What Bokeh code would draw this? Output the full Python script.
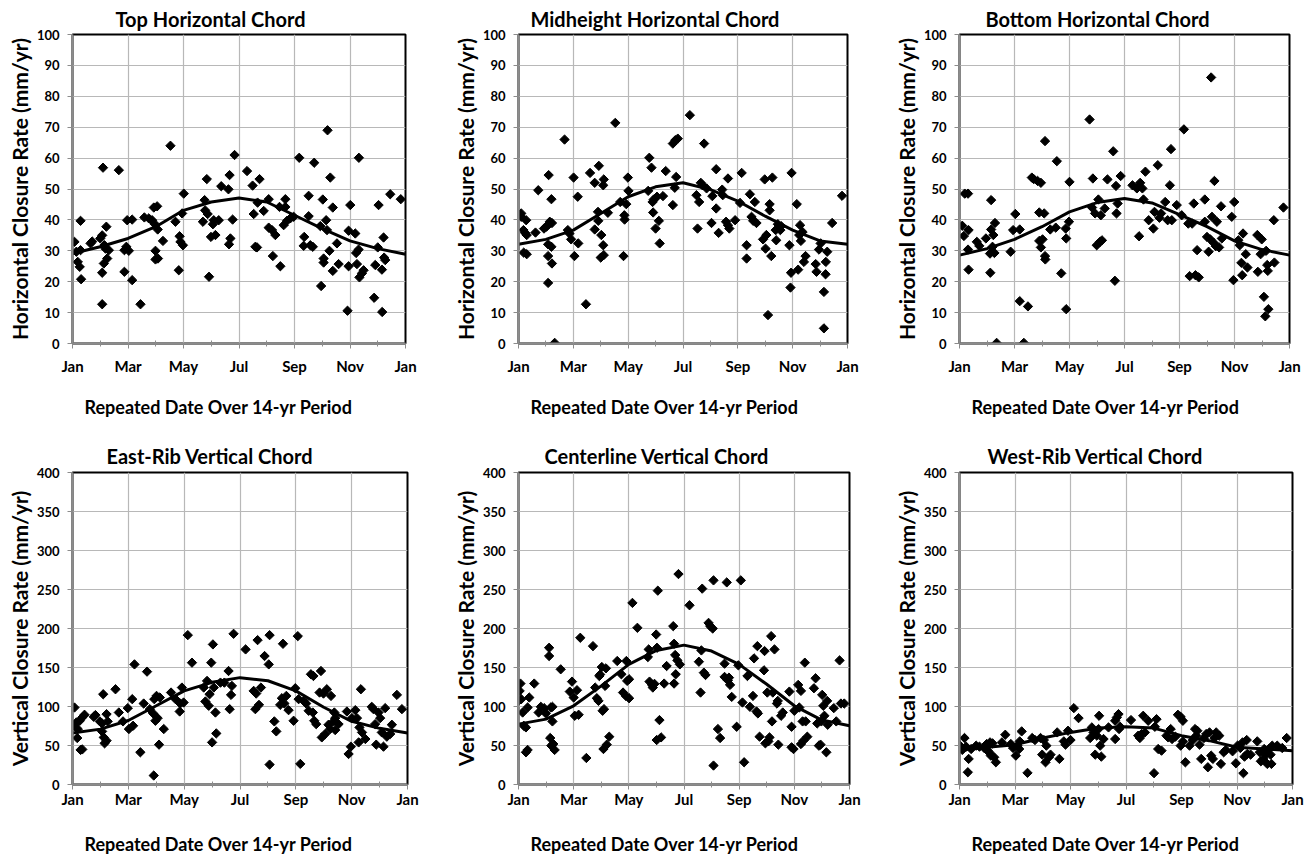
import math
from bokeh.plotting import figure
from bokeh.models import Range1d, FixedTicker, Title
from bokeh.layouts import row, column
from bokeh.embed import file_html
from bokeh.resources import INLINE

FONT = "Lato"

# ---------------- data (x = month position, 0 = Jan ... 12 = next Jan) ----------------
month_ticks = [0, 2, 4, 6, 8, 10, 12]
month_labels = ["Jan", "Mar", "May", "Jul", "Sep", "Nov", "Jan"]
minor_month_ticks = [1, 3, 5, 7, 9, 11]
curve_months = [0, 1, 2, 3, 4, 5, 6, 7, 8, 9, 10, 11, 12]

top_pts = [(0.07,32.9),(0.14,29.7),(0.19,26.4),(0.26,24.8),(0.31,20.8),(0.29,39.7),(0.29,30.2),(0.65,32.4),(0.71,33.0),(1.00,34.0),(1.07,35.0),(1.10,56.9),(1.07,12.7),(1.07,22.9),(1.13,25.9),(1.19,30.7),(1.15,31.8),(1.22,37.8),(1.25,27.5),(1.31,30.2),(1.67,56.1),(1.87,30.2),(1.87,23.2),(1.94,31.3),(1.97,39.9),(2.03,30.0),(2.15,20.5),(2.15,40.1),(2.45,12.7),(2.59,40.8),(2.75,40.5),(2.87,39.9),(2.93,44.0),(3.05,44.4),(2.95,38.8),(3.07,36.9),(2.99,30.0),(2.99,27.2),(3.08,27.5),(3.26,33.2),(3.53,64.0),(3.71,39.4),(3.83,23.7),(3.86,34.7),(3.89,32.9),(3.98,31.8),(3.95,42.1),(4.01,48.5),(4.70,39.4),(4.76,46.4),(4.84,53.2),(4.78,43.1),(4.87,41.9),(4.92,21.6),(4.99,34.5),(5.06,38.6),(5.15,35.1),(5.09,39.9),(5.27,39.9),(5.36,50.9),(5.62,49.9),(5.66,54.5),(5.64,32.1),(5.69,34.0),(5.77,40.1),(5.84,61.0),(6.29,55.8),(6.49,51.1),(6.53,41.9),(6.59,31.3),(6.65,31.1),(6.67,45.6),(6.74,53.2),(6.89,42.9),(7.07,46.7),(7.07,37.5),(7.19,36.7),(7.22,28.3),(7.31,35.1),(7.46,44.2),(7.49,25.0),(7.67,46.7),(7.61,38.3),(7.67,44.2),(7.73,39.7),(7.85,40.5),(7.97,41.0),(8.17,60.1),(8.35,34.5),(8.33,31.6),(8.51,47.8),(8.51,41.2),(8.57,31.8),(8.66,31.3),(8.71,58.5),(8.93,38.0),(8.96,18.6),(9.02,46.6),(9.05,27.5),(9.05,26.2),(9.14,39.9),(9.17,36.7),(9.19,69.0),(9.26,30.0),(9.29,53.7),(9.38,44.0),(9.38,23.5),(9.53,32.4),(9.59,25.7),(9.95,36.5),(9.95,25.0),(9.91,10.6),(10.01,44.8),(10.19,35.6),(10.22,29.3),(10.25,25.7),(10.31,30.4),(10.32,60.1),(10.34,21.4),(10.43,22.7),(10.49,23.7),(10.87,14.8),(10.91,25.4),(11.00,31.1),(11.03,44.8),(11.15,23.9),(11.16,10.2),(11.21,34.3),(11.23,27.8),(11.27,27.0),(11.45,48.3),(11.83,46.7)]
top_curve = [29.1, 31.3, 34.0, 37.8, 43.1, 45.8, 47.1, 45.8, 41.5, 37.2, 33.2, 30.7, 28.9]

mid_pts = [(0.10,42.1),(0.10,41.0),(0.18,36.7),(0.28,39.9),(0.24,35.8),(0.30,35.1),(0.19,29.4),(0.30,28.9),(0.62,35.9),(0.72,49.6),(0.93,37.2),(1.02,37.8),(1.10,54.5),(1.10,38.6),(1.14,39.4),(1.22,39.0),(1.08,32.1),(1.20,31.3),(1.08,28.3),(1.20,46.7),(1.22,25.9),(1.08,19.6),(1.32,0.2),(1.68,66.0),(1.80,36.7),(1.86,35.6),(1.92,33.7),(2.04,28.3),(2.01,53.7),(2.16,47.5),(2.18,32.4),(2.46,12.7),(2.61,55.2),(2.78,52.0),(2.78,36.9),(2.93,57.5),(2.90,42.6),(2.91,39.7),(3.02,35.1),(3.00,27.8),(3.09,31.8),(3.11,53.1),(3.09,51.2),(3.11,28.6),(3.26,42.3),(3.53,71.4),(3.71,45.8),(3.83,28.3),(3.86,41.5),(3.87,40.1),(3.93,45.1),(3.99,53.7),(4.01,49.4),(4.73,49.4),(4.77,60.1),(4.85,56.9),(4.89,45.8),(4.91,42.4),(4.93,46.6),(5.00,37.2),(5.05,47.5),(5.12,39.7),(5.15,32.4),(5.27,47.7),(5.37,55.8),(5.63,44.8),(5.63,64.7),(5.72,65.8),(5.81,66.3),(5.70,50.4),(5.75,53.9),(6.25,73.9),(6.49,48.0),(6.53,37.2),(6.59,45.8),(6.65,52.0),(6.71,51.2),(6.77,64.7),(6.86,50.2),(7.04,39.0),(7.07,47.7),(7.21,56.4),(7.21,43.7),(7.30,35.8),(7.43,49.8),(7.45,48.0),(7.57,39.4),(7.64,53.4),(7.64,38.3),(7.69,37.2),(7.90,39.9),(8.08,45.5),(8.14,55.2),(8.32,31.8),(8.32,27.5),(8.44,48.3),(8.50,41.0),(8.56,39.7),(8.62,45.8),(8.68,39.0),(8.92,33.7),(8.98,53.1),(9.01,30.7),(9.04,35.1),(9.10,9.2),(9.16,45.1),(9.16,43.1),(9.22,28.3),(9.26,53.7),(9.38,36.7),(9.40,33.4),(9.46,38.6),(9.55,36.7),(9.58,38.0),(9.88,31.8),(9.94,22.9),(9.92,18.1),(9.96,55.2),(10.15,45.1),(10.20,23.9),(10.24,35.1),(10.27,38.3),(10.30,33.2),(10.36,36.1),(10.41,26.4),(10.47,28.3),(10.84,25.7),(10.87,23.2),(10.96,30.4),(11.02,32.4),(11.14,16.7),(11.14,4.9),(11.20,22.4),(11.21,26.4),(11.26,29.7),(11.44,39.0),(11.80,47.8)]
mid_curve = [32.1, 33.7, 36.7, 42.1, 47.5, 50.7, 52.0, 49.8, 46.1, 41.2, 36.7, 33.2, 32.1]

bot_pts = [(0.10,38.1),(0.16,34.8),(0.19,48.5),(0.31,48.5),(0.33,36.7),(0.31,30.4),(0.33,23.9),(0.63,32.9),(0.72,31.6),(0.96,34.0),(1.11,29.1),(1.12,22.9),(1.15,46.4),(1.15,36.9),(1.20,31.3),(1.23,35.1),(1.27,29.3),(1.29,39.0),(1.35,0.2),(1.86,29.7),(1.95,36.7),(2.03,41.9),(2.19,36.9),(2.19,13.7),(2.34,0.2),(2.49,12.0),(2.63,53.7),(2.70,53.2),(2.84,52.6),(2.96,52.0),(2.90,42.4),(2.90,33.2),(2.96,31.1),(3.02,33.7),(3.08,42.1),(3.11,65.5),(3.11,28.3),(3.12,27.2),(3.30,36.9),(3.50,37.5),(3.54,59.0),(3.70,22.7),(3.86,37.2),(3.88,34.0),(3.88,11.1),(3.98,39.4),(4.00,52.3),(4.73,72.5),(4.82,44.0),(4.85,53.4),(4.93,42.1),(4.99,31.8),(5.05,46.6),(5.11,32.9),(5.14,41.5),(5.18,33.4),(5.28,43.7),(5.38,53.1),(5.59,62.2),(5.65,20.3),(5.69,51.0),(5.71,42.1),(5.75,45.3),(5.86,54.2),(6.29,51.2),(6.45,50.2),(6.53,34.7),(6.57,52.0),(6.65,50.2),(6.69,46.6),(6.76,55.6),(6.88,39.9),(7.05,37.2),(7.09,42.6),(7.21,57.7),(7.27,40.7),(7.33,42.1),(7.48,45.8),(7.57,39.9),(7.65,51.2),(7.69,62.9),(7.72,39.9),(7.90,44.8),(8.08,41.5),(8.16,69.3),(8.32,38.8),(8.37,21.8),(8.46,38.8),(8.52,45.3),(8.58,22.1),(8.64,30.2),(8.70,21.4),(8.92,46.6),(8.92,39.4),(9.00,34.5),(9.06,29.7),(9.12,33.7),(9.15,86.1),(9.18,41.0),(9.24,32.6),(9.27,52.6),(9.32,31.5),(9.36,39.4),(9.44,31.1),(9.51,44.4),(9.54,34.0),(9.90,41.0),(9.96,20.5),(9.99,45.8),(10.14,33.4),(10.19,31.8),(10.25,26.1),(10.28,22.1),(10.31,35.6),(10.41,28.9),(10.47,24.6),(10.83,35.1),(10.85,23.2),(10.95,28.9),(10.99,33.7),(11.07,15.1),(11.12,8.8),(11.15,30.0),(11.19,25.4),(11.21,23.5),(11.23,11.1),(11.43,39.9),(11.45,26.2),(11.78,44.0)]
bot_curve = [28.6, 30.7, 33.7, 37.8, 42.6, 45.6, 46.9, 45.5, 41.7, 37.8, 33.2, 30.4, 28.6]

east_pts = [(0.07,98.7),(0.05,75.3),(0.14,79.6),(0.17,59.6),(0.19,71.1),(0.29,44.3),(0.35,45.0),(0.26,81.7),(0.35,86.0),(0.43,89.4),(0.76,86.8),(0.82,89.0),(0.98,80.9),(1.06,78.3),(1.10,115.7),(1.06,68.1),(1.12,60.4),(1.15,52.8),(1.22,56.2),(1.22,90.2),(1.26,80.9),(1.54,122.1),(1.66,92.3),(1.81,80.9),(1.98,97.9),(2.02,71.1),(2.14,109.4),(2.17,75.3),(2.22,154.0),(2.43,41.3),(2.55,103.8),(2.67,144.7),(2.77,96.6),(2.89,91.1),(2.91,11.5),(2.93,109.4),(2.97,81.7),(3.01,113.6),(3.05,85.1),(3.10,51.1),(3.13,111.5),(3.27,71.1),(3.53,117.9),(3.69,109.4),(3.84,93.6),(3.86,103.8),(3.92,124.3),(3.98,105.1),(4.13,191.5),(4.28,156.2),(4.70,124.3),(4.76,106.4),(4.82,132.8),(4.88,100.9),(4.91,115.7),(4.97,156.2),(5.00,54.0),(5.03,179.6),(5.06,124.3),(5.12,92.3),(5.15,65.5),(5.30,130.6),(5.44,130.6),(5.59,145.5),(5.63,96.6),(5.68,114.9),(5.71,126.4),(5.77,193.2),(6.20,173.2),(6.49,120.0),(6.55,96.6),(6.58,116.6),(6.63,185.1),(6.68,102.1),(6.75,124.3),(6.88,164.7),(7.03,154.0),(7.06,191.5),(7.06,25.5),(7.23,80.9),(7.30,68.1),(7.44,102.1),(7.50,110.6),(7.54,180.4),(7.59,103.8),(7.66,113.6),(7.74,95.3),(7.92,81.7),(7.98,123.4),(8.07,190.2),(8.10,109.4),(8.16,26.4),(8.28,107.2),(8.37,103.8),(8.46,94.5),(8.54,141.3),(8.63,139.1),(8.61,92.3),(8.66,81.7),(8.73,77.4),(8.85,117.9),(8.90,145.5),(8.93,60.4),(8.99,116.6),(9.05,64.7),(9.11,122.1),(9.17,76.6),(9.23,71.1),(9.26,113.6),(9.35,80.9),(9.38,92.3),(9.41,85.1),(9.41,69.8),(9.53,77.4),(9.83,93.6),(9.89,39.1),(9.97,48.5),(10.01,85.1),(10.13,95.3),(10.19,85.1),(10.25,54.0),(10.28,73.2),(10.33,122.1),(10.37,66.8),(10.49,58.3),(10.72,99.6),(10.78,96.6),(10.84,77.4),(10.88,51.1),(10.96,92.3),(11.02,85.1),(11.08,66.8),(11.14,48.5),(11.20,97.9),(11.26,61.3),(11.38,64.7),(11.44,76.6),(11.62,114.9),(11.80,96.6)]
east_curve = [66.0, 71.0, 82.0, 101.0, 120.0, 131.0, 137.0, 133.0, 120.0, 99.0, 81.0, 72.0, 66.0]

center_pts = [(0.07,129.4),(0.04,120.0),(0.00,107.2),(0.10,109.4),(0.15,92.3),(0.19,75.3),(0.27,73.2),(0.27,41.3),(0.33,44.3),(0.33,98.7),(0.39,111.5),(0.57,129.4),(0.73,92.3),(0.81,99.6),(0.93,97.9),(0.99,91.1),(1.11,175.3),(1.11,164.7),(1.15,59.6),(1.17,98.7),(1.19,49.8),(1.23,99.6),(1.23,80.9),(1.26,52.0),(1.31,44.3),(1.53,147.7),(1.86,119.1),(1.94,131.9),(2.00,111.5),(2.04,88.1),(2.12,120.9),(2.18,89.4),(2.24,188.1),(2.46,34.0),(2.70,177.4),(2.78,124.3),(2.84,110.6),(2.90,107.2),(2.93,139.1),(2.96,141.0),(3.02,150.6),(3.05,94.5),(3.10,96.6),(3.08,45.5),(3.14,126.4),(3.17,148.9),(3.20,51.1),(3.29,61.3),(3.58,158.3),(3.73,141.3),(3.79,117.9),(3.89,113.6),(3.91,158.3),(3.94,132.8),(4.01,134.9),(4.01,110.6),(4.13,232.8),(4.31,200.9),(4.69,163.4),(4.72,173.2),(4.75,131.9),(4.84,127.7),(4.87,124.3),(4.93,129.0),(4.99,192.3),(5.02,175.3),(5.05,248.5),(5.01,57.0),(5.11,82.6),(5.17,60.4),(5.28,129.4),(5.37,151.9),(5.61,203.0),(5.64,180.4),(5.64,129.4),(5.68,166.0),(5.70,141.3),(5.76,159.1),(5.80,269.8),(5.85,154.0),(6.20,229.8),(6.54,157.4),(6.60,117.9),(6.63,171.9),(6.66,251.1),(6.72,143.4),(6.78,140.4),(6.89,207.2),(6.95,203.0),(7.04,200.0),(7.07,261.7),(7.07,24.3),(7.23,71.1),(7.31,59.6),(7.47,154.9),(7.47,137.9),(7.55,259.1),(7.59,133.6),(7.63,137.0),(7.67,127.7),(7.73,112.3),(7.91,74.0),(7.97,152.8),(8.06,261.7),(8.12,105.1),(8.18,28.5),(8.30,139.1),(8.39,99.6),(8.50,113.6),(8.54,161.7),(8.63,93.6),(8.66,177.4),(8.68,91.1),(8.74,61.3),(8.90,146.4),(8.92,171.1),(8.95,52.8),(9.02,117.9),(9.06,55.3),(9.10,60.4),(9.16,190.2),(9.19,80.9),(9.22,117.9),(9.28,173.2),(9.37,103.8),(9.40,107.2),(9.42,51.1),(9.52,88.1),(9.58,92.3),(9.82,119.1),(9.90,74.0),(9.90,47.7),(9.97,45.5),(10.00,94.5),(10.14,127.7),(10.18,98.7),(10.24,120.0),(10.24,51.9),(10.30,80.9),(10.33,56.2),(10.38,156.2),(10.41,80.9),(10.47,61.3),(10.71,123.4),(10.77,136.2),(10.83,78.3),(10.89,49.8),(10.95,51.1),(10.98,80.9),(11.01,114.9),(11.05,100.9),(11.09,88.1),(11.16,41.3),(11.19,107.2),(11.21,76.6),(11.43,97.9),(11.52,80.9),(11.64,159.1),(11.69,103.8),(11.81,103.8)]
center_curve = [77.4, 83.8, 100.9, 126.4, 154.0, 171.9, 178.7, 171.1, 154.0, 128.5, 100.9, 82.6, 75.3]

west_pts = [(0.02,49.8),(0.10,44.3),(0.18,59.6),(0.30,15.7),(0.33,32.8),(0.24,48.5),(0.42,45.5),(0.60,49.8),(0.72,48.5),(0.89,46.8),(0.98,51.9),(1.01,43.4),(1.07,41.3),(1.10,54.0),(1.13,37.0),(1.19,52.8),(1.25,34.9),(1.31,28.5),(1.53,54.0),(1.65,63.8),(1.85,51.9),(1.93,46.8),(2.03,37.0),(2.09,49.8),(2.15,45.5),(2.17,55.3),(2.24,68.1),(2.45,14.9),(2.62,59.6),(2.72,57.0),(2.92,59.6),(2.98,38.3),(3.04,57.0),(3.10,28.5),(3.13,49.8),(3.22,34.9),(3.28,38.3),(3.52,66.8),(3.60,32.8),(3.76,55.3),(3.82,51.1),(3.91,68.9),(4.00,57.0),(4.12,97.9),(4.29,85.1),(4.71,59.6),(4.77,73.2),(4.83,66.8),(4.89,38.3),(4.95,62.6),(5.01,71.1),(5.03,88.1),(5.07,49.8),(5.11,35.7),(5.19,58.3),(5.37,73.2),(5.61,58.3),(5.61,81.7),(5.67,86.0),(5.73,90.2),(5.75,71.1),(5.79,74.0),(6.18,82.6),(6.44,62.6),(6.50,59.6),(6.56,64.7),(6.62,88.1),(6.68,66.8),(6.80,81.7),(7.01,14.5),(7.04,74.0),(7.10,83.8),(7.16,45.5),(7.28,43.4),(7.46,62.6),(7.52,60.4),(7.61,71.1),(7.66,58.3),(7.78,61.3),(7.87,89.4),(7.97,86.8),(8.05,81.7),(7.97,49.8),(8.05,55.3),(8.14,28.5),(8.29,49.8),(8.41,57.0),(8.49,71.1),(8.53,62.6),(8.57,68.9),(8.65,51.1),(8.71,32.8),(8.81,59.6),(8.89,64.7),(8.95,22.1),(9.01,66.8),(9.07,37.0),(9.13,32.8),(9.19,59.6),(9.25,66.8),(9.36,62.6),(9.42,26.4),(9.52,41.3),(9.60,44.3),(9.84,42.6),(9.96,27.2),(10.02,49.8),(10.12,46.8),(10.20,54.0),(10.23,14.5),(10.27,35.7),(10.35,57.0),(10.37,39.1),(10.49,38.3),(10.73,55.3),(10.82,41.3),(10.86,29.8),(10.95,32.8),(10.98,45.5),(11.03,38.3),(11.09,26.4),(11.15,45.5),(11.21,38.3),(11.24,26.4),(11.27,49.8),(11.45,49.8),(11.63,46.8),(11.79,59.6)]
west_curve = [44.3, 47.7, 51.1, 59.6, 66.8, 72.3, 74.0, 72.3, 62.6, 56.2, 47.7, 45.5, 43.4]

titles = ["Top Horizontal Chord", "Midheight Horizontal Chord", "Bottom Horizontal Chord",
          "East-Rib Vertical Chord", "Centerline Vertical Chord", "West-Rib Vertical Chord"]
h_ylabel = "Horizontal Closure Rate (mm/yr)"
v_ylabel = "Vertical Closure Rate (mm/yr)"
x_label = "Repeated Date Over 14-yr Period"
h_yticks = [0, 10, 20, 30, 40, 50, 60, 70, 80, 90, 100]
v_yticks = [0, 50, 100, 150, 200, 250, 300, 350, 400]


def panel(title, ylabel, pts, curve, yticks, width, bl, br, height, bt, bb, title_off,
          title_standoff, xtick_standoff, spacer_size, xlab_standoff):
    ymax = yticks[-1]
    p = figure(width=width, height=height, x_range=Range1d(0, 12), y_range=Range1d(0, ymax),
               output_backend="svg", toolbar_location=None,
               min_border_left=bl, min_border_right=br, min_border_top=bt, min_border_bottom=bb,
               background_fill_color="white", border_fill_color="white")
    p.outline_line_color = "black"
    p.outline_line_width = 2

    xa = p.xaxis[0]
    xa.ticker = FixedTicker(ticks=month_ticks, minor_ticks=minor_month_ticks)
    xa.major_label_overrides = {t: l for t, l in zip(month_ticks, month_labels)}
    xa.major_tick_out = 5
    xa.major_tick_in = 0
    xa.minor_tick_out = 3
    xa.minor_tick_in = 3
    xa.major_tick_line_color = "#8c8c8c"
    xa.minor_tick_line_color = "#8c8c8c"
    xa.axis_line_color = "#8c8c8c"
    xa.axis_line_width = 2
    xa.major_label_text_font = FONT
    xa.major_label_text_font_style = "bold"
    xa.major_label_text_font_size = "15px"
    xa.major_label_text_color = "black"
    xa.major_label_standoff = xtick_standoff
    if spacer_size:
        # blank axis label used only as vertical spacing below the tick labels
        xa.axis_label = " "
        xa.axis_label_text_font_size = spacer_size
        xa.axis_label_standoff = 0

    ya = p.yaxis[0]
    ya.ticker = FixedTicker(ticks=yticks)
    ya.major_tick_out = 5
    ya.major_tick_in = 0
    ya.minor_tick_out = 0
    ya.minor_tick_in = 0
    ya.major_tick_line_color = "#8c8c8c"
    ya.axis_line_color = "#8c8c8c"
    ya.axis_line_width = 2
    ya.major_label_text_font = FONT
    ya.major_label_text_font_style = "bold"
    ya.major_label_text_font_size = "13px"
    ya.major_label_text_color = "black"
    ya.major_label_standoff = 8
    ya.axis_label = ylabel
    ya.axis_label_text_font = FONT
    ya.axis_label_text_font_style = "bold"
    ya.axis_label_text_font_size = "21px"
    ya.axis_label_text_color = "black"
    ya.axis_label_standoff = 2

    p.xgrid.grid_line_color = "#b8b8b8"
    p.xgrid.grid_line_width = 1.2
    p.ygrid.grid_line_color = "#b8b8b8"
    p.ygrid.grid_line_width = 1.2

    xs = [q[0] for q in pts]
    ys = [q[1] for q in pts]
    p.scatter(xs, ys, marker="square", size=6.6, angle=math.pi / 4,
              fill_color="black", line_color="black")
    p.line(curve_months, curve, line_width=3, line_color="black")

    p.add_layout(Title(text=title, align="left", offset=title_off, standoff=title_standoff,
                       text_font=FONT, text_font_style="bold", text_font_size="20px",
                       text_color="black"), "above")
    p.add_layout(Title(text=x_label, align="left", offset=12, standoff=xlab_standoff,
                       text_font=FONT, text_font_style="bold", text_font_size="18px",
                       text_color="black"), "below")
    return p


top_args = dict(height=435, bt=34, bb=92, title_standoff=8, xtick_standoff=8,
                spacer_size=None, xlab_standoff=32)
bot_args = dict(height=419, bt=37, bb=68, title_standoff=10, xtick_standoff=0,
                spacer_size="15px", xlab_standoff=0)

p1 = panel(titles[0], h_ylabel, top_pts, top_curve, h_yticks, 449, 72, 44, title_off=43, **top_args)
p2 = panel(titles[1], h_ylabel, mid_pts, mid_curve, h_yticks, 441, 64, 43, title_off=12, **top_args)
p3 = panel(titles[2], h_ylabel, bot_pts, bot_curve, h_yticks, 420, 64, 21, title_off=26, **top_args)
p4 = panel(titles[3], v_ylabel, east_pts, east_curve, v_yticks, 449, 72, 42, title_off=34, **bot_args)
p5 = panel(titles[4], v_ylabel, center_pts, center_curve, v_yticks, 441, 65, 41, title_off=26, **bot_args)
p6 = panel(titles[5], v_ylabel, west_pts, west_curve, v_yticks, 420, 67, 18, title_off=28, **bot_args)

layout = column(row(p1, p2, p3), row(p4, p5, p6))
open("out.html", "w").write(file_html(layout, INLINE))
